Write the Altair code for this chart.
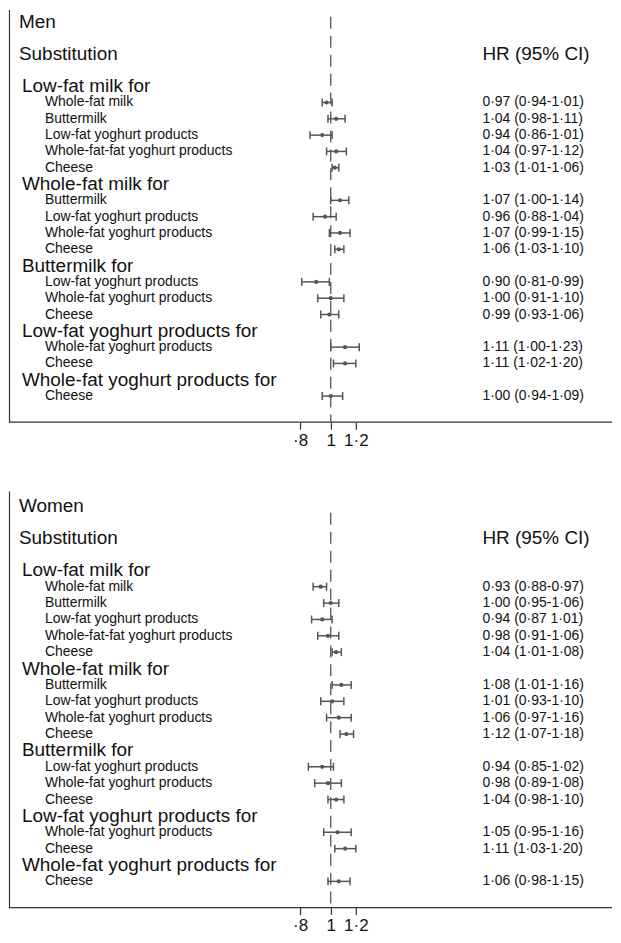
import altair as alt
import pandas as pd

GROUPS = ["Low-fat milk for", "Whole-fat milk for", "Buttermilk for",
          "Low-fat yoghurt products for", "Whole-fat yoghurt products for"]
ITEMS = [
    ["Whole-fat milk", "Buttermilk", "Low-fat yoghurt products",
     "Whole-fat-fat yoghurt products", "Cheese"],
    ["Buttermilk", "Low-fat yoghurt products", "Whole-fat yoghurt products", "Cheese"],
    ["Low-fat yoghurt products", "Whole-fat yoghurt products", "Cheese"],
    ["Whole-fat yoghurt products", "Cheese"],
    ["Cheese"],
]

MEN_HR = [0.97, 1.04, 0.94, 1.04, 1.03, 1.07, 0.96, 1.07, 1.06, 0.90, 1.00, 0.99, 1.11, 1.11, 1.00]
MEN_LO = [0.94, 0.98, 0.86, 0.97, 1.01, 1.00, 0.88, 0.99, 1.03, 0.81, 0.91, 0.93, 1.00, 1.02, 0.94]
MEN_HI = [1.01, 1.11, 1.01, 1.12, 1.06, 1.14, 1.04, 1.15, 1.10, 0.99, 1.10, 1.06, 1.23, 1.20, 1.09]
MEN_TXT = ["0·97 (0·94-1·01)", "1·04 (0·98-1·11)", "0·94 (0·86-1·01)", "1·04 (0·97-1·12)",
           "1·03 (1·01-1·06)", "1·07 (1·00-1·14)", "0·96 (0·88-1·04)", "1·07 (0·99-1·15)",
           "1·06 (1·03-1·10)", "0·90 (0·81-0·99)", "1·00 (0·91-1·10)", "0·99 (0·93-1·06)",
           "1·11 (1·00-1·23)", "1·11 (1·02-1·20)", "1·00 (0·94-1·09)"]

WOMEN_HR = [0.93, 1.00, 0.94, 0.98, 1.04, 1.08, 1.01, 1.06, 1.12, 0.94, 0.98, 1.04, 1.05, 1.11, 1.06]
WOMEN_LO = [0.88, 0.95, 0.87, 0.91, 1.01, 1.01, 0.93, 0.97, 1.07, 0.85, 0.89, 0.98, 0.95, 1.03, 0.98]
WOMEN_HI = [0.97, 1.06, 1.01, 1.06, 1.08, 1.16, 1.10, 1.16, 1.18, 1.02, 1.08, 1.10, 1.16, 1.20, 1.15]
WOMEN_TXT = ["0·93 (0·88-0·97)", "1·00 (0·95-1·06)", "0·94 (0·87 1·01)", "0·98 (0·91-1·06)",
             "1·04 (1·01-1·08)", "1·08 (1·01-1·16)", "1·01 (0·93-1·10)", "1·06 (0·97-1·16)",
             "1·12 (1·07-1·18)", "0·94 (0·85-1·02)", "0·98 (0·89-1·08)", "1·04 (0·98-1·10)",
             "1·05 (0·95-1·16)", "1·11 (1·03-1·20)", "1·06 (0·98-1·15)"]

TICKS = [0.8, 1.0, 1.2]
TICK_LABELS = ["·8", "1", "1·2"]

FONT = "Liberation Sans"
INK = "#111111"
BAR = "#555555"
LINE = "#333333"
W = 605


def panel(title, hr, lo, hi, txt, ydomain, height, dash_top):
    headers, rows = [], []
    k, j = 0, 0
    for g, items in zip(GROUPS, ITEMS):
        headers.append({"row": k, "label": g})
        k += 1
        for it in items:
            rows.append({"row": k, "label": it, "hr": hr[j], "lo": lo[j],
                         "hi": hi[j], "txt": txt[j]})
            k += 1
            j += 1
    hdf = pd.DataFrame(headers)
    rdf = pd.DataFrame(rows)
    top = pd.DataFrame([{"row": -3.95, "label": title}, {"row": -2.0, "label": "Substitution"}])
    hrhead = pd.DataFrame([{"row": -2.0, "label": "HR (95% CI)"}])
    dash = pd.DataFrame([{"x": 1.0, "y1": dash_top, "y2": ydomain[1]}])
    base = pd.DataFrame([{"y": ydomain[1]}])

    lab_expr = " : ".join(
        [f"datum.value == {v} ? '{l}'" for v, l in zip(TICKS[:-1], TICK_LABELS[:-1])]
    ) + f" : '{TICK_LABELS[-1]}'"

    xs = alt.Scale(type="log", domain=[0.8, 1.2], range=[292, 348], nice=False, zero=False)
    ys = alt.Scale(domain=ydomain, reverse=True, nice=False, zero=False)
    xaxis = alt.Axis(values=TICKS, labelExpr=lab_expr, title=None, grid=False, domain=False,
                     tickSize=7, tickColor=LINE,
                     labelFontSize=17, labelFont=FONT, labelColor=INK, labelPadding=3,
                     labelOverlap=False, labelBound=False, labelFlush=False,
                     tickWidth=1.2)
    yaxis = alt.Axis(labels=False, ticks=False, grid=False, title=None,
                     domainColor=LINE, domainWidth=1.2)

    whisk = alt.Chart(rdf).mark_rule(color=BAR, strokeWidth=1.5).encode(
        x=alt.X("lo:Q", scale=xs, axis=xaxis),
        x2="hi:Q",
        y=alt.Y("row:Q", scale=ys, axis=yaxis),
    )
    baseline = alt.Chart(base).mark_rule(color=LINE, strokeWidth=1.2).encode(
        x=alt.value(0), x2=alt.value(W), y=alt.Y("y:Q", scale=ys))
    cap_lo = alt.Chart(rdf).mark_point(shape="M0,-1L0,1", size=64, filled=False,
                                       color=BAR, strokeWidth=1.5, opacity=1).encode(
        x=alt.X("lo:Q", scale=xs), y=alt.Y("row:Q", scale=ys))
    cap_hi = alt.Chart(rdf).mark_point(shape="M0,-1L0,1", size=64, filled=False,
                                       color=BAR, strokeWidth=1.5, opacity=1).encode(
        x=alt.X("hi:Q", scale=xs), y=alt.Y("row:Q", scale=ys))
    dots = alt.Chart(rdf).mark_circle(size=18, color=BAR, opacity=1).encode(
        x=alt.X("hr:Q", scale=xs), y=alt.Y("row:Q", scale=ys))
    ref = alt.Chart(dash).mark_rule(color=BAR, strokeWidth=1.3, strokeDash=[12, 7]).encode(
        x=alt.X("x:Q", scale=xs), y=alt.Y("y1:Q", scale=ys), y2="y2:Q")

    t_top = alt.Chart(top).mark_text(align="left", baseline="middle", fontSize=19,
                                     font=FONT, color=INK).encode(
        x=alt.value(10), y=alt.Y("row:Q", scale=ys), text="label:N")
    t_hr = alt.Chart(hrhead).mark_text(align="left", baseline="middle", fontSize=19,
                                       font=FONT, color=INK).encode(
        x=alt.value(475), y=alt.Y("row:Q", scale=ys), text="label:N")
    t_head = alt.Chart(hdf).mark_text(align="left", baseline="middle", fontSize=19,
                                      font=FONT, color=INK).encode(
        x=alt.value(13), y=alt.Y("row:Q", scale=ys), text="label:N")
    t_item = alt.Chart(rdf).mark_text(align="left", baseline="middle", fontSize=14,
                                      font=FONT, color=INK).encode(
        x=alt.value(36), y=alt.Y("row:Q", scale=ys), text="label:N")
    t_val = alt.Chart(rdf).mark_text(align="left", baseline="middle", fontSize=14,
                                     font=FONT, color=INK).encode(
        x=alt.value(475), y=alt.Y("row:Q", scale=ys), text="txt:N")

    return alt.layer(whisk, baseline, ref, cap_lo, cap_hi, dots,
                     t_top, t_hr, t_head, t_item, t_val).properties(width=W, height=height)


men = panel("Men", MEN_HR, MEN_LO, MEN_HI, MEN_TXT, [-4.7, 20.6], 414, -4.25)
women = panel("Women", WOMEN_HR, WOMEN_LO, WOMEN_HI, WOMEN_TXT, [-4.85, 20.6], 418, -3.51)

chart = alt.vconcat(men, women, spacing=43).resolve_scale(
    x="independent", y="independent"
).configure(background="white", padding=0).configure_view(stroke=None)

chart.save("out.html", embed_options={"renderer": "svg", "actions": False})
